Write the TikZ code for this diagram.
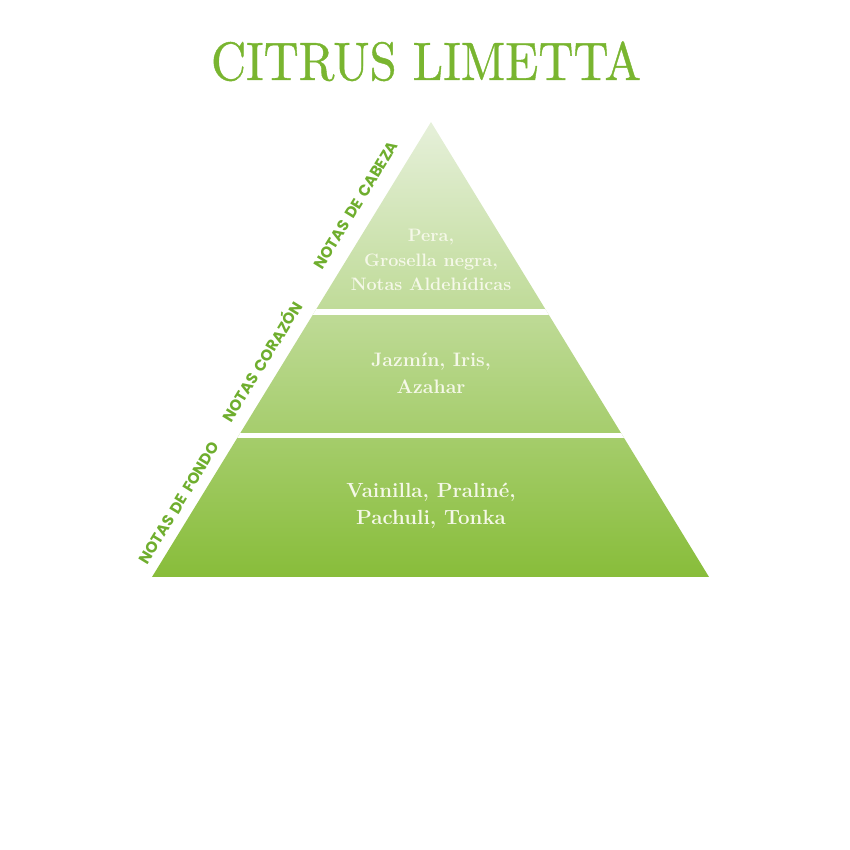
\documentclass[tikz,border=0pt]{standalone}
\usepackage{fontspec}
\newfontfamily\sidefont{Poppins}[WordSpace=1.6]
\newfontfamily\titlefont{lmroman10-regular.otf}[FakeBold=0.8]
\definecolor{titlegreen}{HTML}{79B530}
\definecolor{sidegreen}{HTML}{6FAE2E}
\definecolor{notecream}{HTML}{F5F8E8}
\definecolor{pyrtop}{HTML}{E6F0DA}
\definecolor{pyrmid}{HTML}{ACD177}
\definecolor{pyrbot}{HTML}{88BD3A}

\begin{document}
\begin{tikzpicture}[x=1pt,y=1pt,
  heading/.style={text=titlegreen,font=\titlefont\fontsize{54}{54}\selectfont},
  notes/.style={text=notecream,align=center,font=\bfseries\fontsize{18}{24.5}\selectfont},
  side/.style={text=sidegreen,rotate=58.5,inner sep=0pt,font=\sidefont\bfseries\fontsize{15.5}{15.5}\selectfont}]
\useasboundingbox (0,0) rectangle (850,850);
\coordinate (apex) at (431,728);
\coordinate (baseleft) at (152,273);
\coordinate (baseright) at (709,273);
% pyramid body:
\begin{scope}
\clip (apex) -- (baseleft) -- (baseright) -- cycle;
\shade[top color=pyrtop,middle color=pyrmid,bottom color=pyrbot] (152,273) rectangle (709,728);
\fill[white] (152,535) rectangle (709,541);
\fill[white] (152,412) rectangle (709,417);
\end{scope}
% title:
\node[heading,anchor=base] (title) at (426,770) {\scalebox{0.9}[1]{CITRUS LIMETTA}};
% notes:
\node[notes] (head) at (431,590) {Pera,\\Grosella negra,\\Notas Aldehídicas};
\node[notes,font=\bfseries\fontsize{19.5}{27.5}\selectfont] (heart) at (431,477) {Jazmín, Iris,\\Azahar};
\node[notes,font=\bfseries\fontsize{20.5}{27}\selectfont] (base) at (431,344) {Vainilla, Praliné,\\Pachuli, Tonka};
% side labels:
\node[side] (headlabel) at (356,645) {NOTAS DE CABEZA};
\node[side] (heartlabel) at (261,489) {NOTAS CORAZÓN};
\node[side] (baselabel) at (179,347) {NOTAS DE FONDO};
\end{tikzpicture}
\end{document}
